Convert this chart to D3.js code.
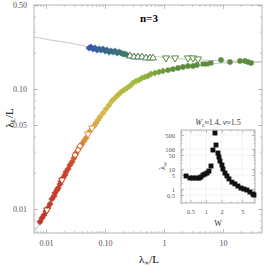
<!DOCTYPE html>
<html>
<head>
<meta charset="utf-8">
<script src="https://cdn.jsdelivr.net/npm/d3@7"></script>
<style>
  body { margin: 0; background: #fff; }
  svg { display: block; }
  text { font-family: "Liberation Serif", "DejaVu Serif", serif; }
  .tick text { fill: #555; }
</style>
</head>
<body>
<svg id="chart" width="266" height="267"></svg>
<script>
// ---- data ----
var xTickVals = [0.01, 0.1, 1, 10];
var xTickLabels = ["0.01", "0.10", "1", "10"];
var yTickVals = [0.01, 0.05, 0.1, 0.5];
var yTickLabels = ["0.01", "0.05", "0.10", "0.50"];

// gray guide curves
var curveLowX = [0.0063, 0.0079, 0.0104, 0.0131, 0.0173, 0.0227, 0.0276, 0.0349, 0.0458, 0.0557, 0.0822, 0.122, 0.18, 0.298, 0.579, 1.08, 2.1, 4.07, 8.9, 45];
var curveLowY = [0.0063, 0.0079, 0.0103, 0.0129, 0.0163, 0.0203, 0.0241, 0.0306, 0.0375, 0.0437, 0.0583, 0.0763, 0.0942, 0.112, 0.133, 0.1437, 0.152, 0.158, 0.164, 0.1675];
var curveUpX = [0.0063, 0.0117, 0.0255, 0.0557, 0.122, 0.265, 0.579, 1.26, 4.07, 13.1, 45];
var curveUpY = [0.2705, 0.2555, 0.241, 0.2234, 0.2108, 0.1953, 0.188, 0.181, 0.174, 0.1708, 0.1675];

// lower branch
var lowDiamX = [0.00791, 0.00855, 0.00925, 0.0100, 0.0108, 0.0117, 0.0126, 0.0137, 0.0142, 0.0154, 0.0160, 0.0173, 0.0180, 0.0194, 0.0210, 0.0218, 0.0236, 0.0255, 0.0276,
                0.0298, 0.0323, 0.0363, 0.0408, 0.0441, 0.0477,
                0.0557, 0.0651, 0.0704, 0.0761, 0.0822, 0.0925, 0.104, 0.117, 0.131, 0.148, 0.166, 0.187, 0.210, 0.236, 0.265,
                0.298, 0.335, 0.377, 0.424, 0.477, 0.536, 0.60, 0.70, 0.82, 0.96];
var lowDiamY = [0.0078, 0.0084, 0.0089, 0.0096, 0.0102, 0.0110, 0.0121, 0.0128, 0.0136, 0.0144, 0.0149, 0.0161, 0.0170, 0.0181, 0.0192, 0.0203, 0.0215, 0.0232, 0.0246,
                0.0265, 0.0292, 0.0322, 0.0347, 0.0368, 0.0389,
                0.0446, 0.0490, 0.0519, 0.0550, 0.0583, 0.0629, 0.0680, 0.0733, 0.0792, 0.0839, 0.0889, 0.0942, 0.0979, 0.1017, 0.1057,
                0.1120, 0.1163, 0.1186, 0.1232, 0.1256, 0.1281, 0.1330, 0.1356, 0.1382, 0.1409];
var lowTriX = [0.0104, 0.0187, 0.0515, 0.0602];
var lowTriY = [0.0098, 0.0174, 0.0421, 0.0472];
var lowOpenDiamX = [0.0311, 0.0349, 0.0377];
var lowOpenDiamY = [0.0281, 0.0310, 0.0334];
var lowCircX = [1.17, 1.42, 1.73, 2.10, 2.55, 3.10, 3.62];
var lowCircY = [0.1436, 0.1464, 0.1493, 0.1522, 0.1551, 0.1551, 0.1581];
var lowSqX = [4.58, 5.35, 6.25];
var lowSqY = [0.1612, 0.1612, 0.1643];

// upper branch
var upDiamX = [0.0536, 0.0579, 0.0626, 0.0677, 0.0732, 0.0791, 0.0855, 0.0925, 0.100, 0.108, 0.117, 0.126, 0.137, 0.148, 0.160, 0.173, 0.187, 0.202, 0.218, 0.236];
var upDiamY = [0.2191, 0.2234, 0.2150, 0.2191, 0.2108, 0.2150, 0.2108, 0.2150, 0.2069, 0.2108, 0.2030, 0.2069, 0.2030, 0.2069, 0.1991, 0.2030, 0.1991, 0.1953, 0.1953, 0.1916];
var upTriUpX = [0.265, 0.310, 0.362, 0.424, 0.495, 0.579, 0.651];
var upTriUpY = [0.1880, 0.1844, 0.1844, 0.1844, 0.1809, 0.1809, 0.1809];
var upTriDownX = [1.08, 1.54, 2.55, 3.10, 3.77];
var upTriDownY = [0.1809, 0.1809, 0.1809, 0.1809, 0.1774];
var upCircX = [9.25, 13.1, 19.4, 23.6, 26.6, 29.9];
var upCircY = [0.1741, 0.1675, 0.1708, 0.1708, 0.1675, 0.1643];

// inset: lambda_inf vs W
var insetW = [0.413, 0.492, 0.562, 0.642, 0.734, 0.80, 0.876, 0.957, 1.05, 1.14, 1.25, 1.36, 1.49, 1.56, 1.70, 1.78, 1.86, 2.03, 2.12, 2.32, 2.53, 2.77, 3.16, 3.61, 4.12, 4.71, 5.38, 6.15, 7.02, 8.0, 8.4];
var insetLam = [4.47, 3.55, 3.55, 3.55, 3.5, 4.0, 5.0, 5.6, 6.3, 7.9, 14.1, 89, 630, 158, 63, 40, 25, 15.8, 10, 6.3, 4.5, 3.2, 2.2, 1.8, 1.41, 1.12, 1.0, 0.89, 0.71, 0.56, 0.5];
var insetXTicks = [0.5, 1, 2, 5];
var insetYTicks = [0.5, 1, 5, 10, 50, 100, 500];
var insetYLabels = ["0.5", "1", "5", "10", "50", "100", "500"];

// ---- drawing ----
var svg = d3.select("#chart");
var frame = { left: 34, right: 262, top: 5, bottom: 233 };

var x = d3.scaleLog().domain([0.00626, 45.8]).range([frame.left, frame.right]);
var y = d3.scaleLog().domain([0.0063, 0.5]).range([frame.bottom, frame.top]);

var lowColor = d3.scaleLog()
    .domain([0.008, 0.025, 0.045, 0.09, 0.35, 1.5])
    .range(["#c0352c", "#c8472c", "#dc8a3c", "#d4b94a", "#9fbb3c", "#5b8c3d"])
    .clamp(true);
var upColor = d3.scaleLog()
    .domain([0.055, 0.12, 0.25, 1])
    .range(["#3a57a8", "#3a6a8a", "#3f7d5c", "#5b8c3d"])
    .clamp(true);

function addAxes(g, xs, ys, fr, xVals, xLabels, yVals, yLabels, fs, big, small) {
    g.append("rect")
        .attr("x", fr.left).attr("y", fr.top)
        .attr("width", fr.right - fr.left).attr("height", fr.bottom - fr.top)
        .attr("fill", "none").attr("stroke", "#a0a0a0").attr("stroke-width", 0.8);

    var minorX = xs.ticks().filter(function (v) { return xVals.indexOf(v) < 0; });
    var minorY = ys.ticks().filter(function (v) { return yVals.indexOf(v) < 0; });

    var axes = [
        { mk: d3.axisBottom, sc: xs, tr: "translate(0," + fr.bottom + ")", vals: xVals, labels: xLabels, minor: minorX },
        { mk: d3.axisTop, sc: xs, tr: "translate(0," + fr.top + ")", vals: xVals, labels: null, minor: minorX },
        { mk: d3.axisLeft, sc: ys, tr: "translate(" + fr.left + ",0)", vals: yVals, labels: yLabels, minor: minorY },
        { mk: d3.axisRight, sc: ys, tr: "translate(" + fr.right + ",0)", vals: yVals, labels: null, minor: minorY }
    ];
    axes.forEach(function (a) {
        var major = g.append("g").attr("transform", a.tr)
            .call(a.mk(a.sc).tickValues(a.vals).tickSize(-big).tickPadding(big + 3)
                .tickFormat(function (d, j) { return a.labels ? a.labels[j] : ""; }));
        major.select(".domain").remove();
        major.selectAll("line").attr("stroke", "#a0a0a0").attr("stroke-width", 0.7);
        major.selectAll("text").style("font-size", fs + "px");
        var minor = g.append("g").attr("transform", a.tr)
            .call(a.mk(a.sc).tickValues(a.minor).tickSize(-small).tickFormat(""));
        minor.select(".domain").remove();
        minor.selectAll("line").attr("stroke", "#a0a0a0").attr("stroke-width", 0.6);
    });
}

// main axes
addAxes(svg.append("g"), x, y, frame, xTickVals, xTickLabels, yTickVals, yTickLabels, 8, 4, 2);

// gray curves
var line = d3.line().x(function (d) { return x(d[0]); }).y(function (d) { return y(d[1]); }).curve(d3.curveMonotoneX);
[[curveLowX, curveLowY], [curveUpX, curveUpY]].forEach(function (c) {
    svg.append("path")
        .datum(d3.zip(c[0], c[1]))
        .attr("d", line)
        .attr("fill", "none")
        .attr("stroke", "#b8b8b8")
        .attr("stroke-width", 0.8);
});

// markers
function drawPoints(xs, ys, type, size, rot, filled, colorScale) {
    var sym = d3.symbol().type(type).size(size);
    svg.append("g").selectAll("path")
        .data(d3.zip(xs, ys))
        .join("path")
        .attr("d", sym)
        .attr("transform", function (d) { return "translate(" + x(d[0]) + "," + y(d[1]) + ") rotate(" + rot + ")"; })
        .attr("fill", function (d) { return filled ? colorScale(d[0]) : "#fff"; })
        .attr("stroke", function (d) { return colorScale(d[0]); })
        .attr("stroke-width", filled ? 0.3 : 1);
}

drawPoints(lowDiamX, lowDiamY, d3.symbolSquare, 22, 45, true, lowColor);
drawPoints(lowOpenDiamX, lowOpenDiamY, d3.symbolSquare, 18, 45, false, lowColor);
drawPoints(lowTriX, lowTriY, d3.symbolTriangle, 20, 180, false, lowColor);
drawPoints(lowCircX, lowCircY, d3.symbolCircle, 22, 0, true, lowColor);
drawPoints(lowSqX, lowSqY, d3.symbolSquare, 20, 0, true, lowColor);

drawPoints(upDiamX, upDiamY, d3.symbolSquare, 22, 45, true, upColor);
drawPoints(upTriUpX, upTriUpY, d3.symbolTriangle, 20, 0, false, upColor);
drawPoints(upTriDownX, upTriDownY, d3.symbolTriangle, 22, 180, false, upColor);
drawPoints(upCircX, upCircY, d3.symbolCircle, 22, 0, true, upColor);

// labels
svg.append("text")
    .attr("x", 140).attr("y", 22)
    .style("font-size", "11px").style("font-weight", "bold")
    .text("n=3");

var yl = svg.append("text")
    .attr("transform", "translate(13,118) rotate(-90)")
    .attr("text-anchor", "middle")
    .style("font-size", "11px");
yl.append("tspan").text("λ");
yl.append("tspan").attr("dy", 2).style("font-size", "7px").text("L");
yl.append("tspan").attr("dy", -2).text("/L");

var xl = svg.append("text")
    .attr("x", 149).attr("y", 263)
    .attr("text-anchor", "middle")
    .style("font-size", "11px");
xl.append("tspan").text("λ");
xl.append("tspan").attr("dy", 2).style("font-size", "7px").text("∞");
xl.append("tspan").attr("dy", -2).text("/L");

// ---- inset ----
var inFrame = { left: 181, right: 255, top: 130, bottom: 203 };
var xi = d3.scaleLog().domain([0.33, 8.8]).range([inFrame.left, inFrame.right]);
var yi = d3.scaleLog().domain([0.2, 891]).range([inFrame.bottom, inFrame.top]);
var gi = svg.append("g");

// light grid at labelled ticks
insetXTicks.forEach(function (v) {
    gi.append("line").attr("x1", xi(v)).attr("x2", xi(v)).attr("y1", inFrame.top).attr("y2", inFrame.bottom)
        .attr("stroke", "#ececec").attr("stroke-width", 0.6);
});
insetYTicks.forEach(function (v) {
    gi.append("line").attr("y1", yi(v)).attr("y2", yi(v)).attr("x1", inFrame.left).attr("x2", inFrame.right)
        .attr("stroke", "#ececec").attr("stroke-width", 0.6);
});
addAxes(gi, xi, yi, inFrame, insetXTicks, insetXTicks.map(String), insetYTicks, insetYLabels, 6.5, 3, 1.5);

gi.append("g").selectAll("path")
    .data(d3.zip(insetW, insetLam))
    .join("path")
    .attr("d", d3.symbol().type(d3.symbolSquare).size(24))
    .attr("transform", function (d) { return "translate(" + xi(d[0]) + "," + yi(d[1]) + ")"; })
    .attr("fill", "#111");

var it = gi.append("text")
    .attr("x", 218).attr("y", 125)
    .attr("text-anchor", "middle")
    .style("font-size", "8px").style("fill", "#333");
it.append("tspan").style("font-style", "italic").text("W");
it.append("tspan").attr("dy", 1.5).style("font-size", "5.5px").text("c");
it.append("tspan").attr("dy", -1.5).text("≈1.4, ");
it.append("tspan").style("font-style", "italic").text("ν");
it.append("tspan").text("≈1.5");

gi.append("text")
    .attr("x", 218).attr("y", 226)
    .attr("text-anchor", "middle")
    .style("font-size", "8px").style("fill", "#333")
    .text("W");

var iyl = gi.append("text")
    .attr("transform", "translate(165,166) rotate(-90)")
    .attr("text-anchor", "middle")
    .style("font-size", "8px").style("fill", "#333");
iyl.append("tspan").text("λ");
iyl.append("tspan").attr("dy", 1.5).style("font-size", "5.5px").text("∞");
</script>
</body>
</html>
